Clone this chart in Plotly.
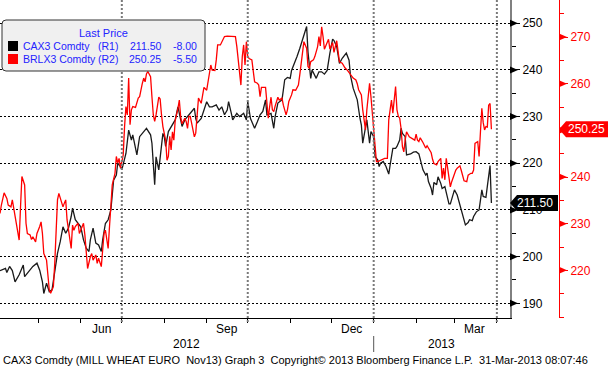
import plotly.graph_objects as go
import pandas as pd

# ---------------- data ----------------
cax_dates = [
    "2012-04-03","2012-04-07","2012-04-08","2012-04-10","2012-04-12","2012-04-14","2012-04-17","2012-04-20",
    "2012-04-21","2012-04-24","2012-04-27","2012-04-30","2012-05-02","2012-05-04","2012-05-05","2012-05-07",
    "2012-05-09","2012-05-11","2012-05-12","2012-05-15","2012-05-17","2012-05-19","2012-05-21","2012-05-23",
    "2012-05-25","2012-05-26","2012-05-28","2012-05-30","2012-06-01","2012-06-03","2012-06-05","2012-06-07",
    "2012-06-08","2012-06-10","2012-06-12","2012-06-14","2012-06-16","2012-06-17","2012-06-19","2012-06-21",
    "2012-06-23","2012-06-25","2012-06-27","2012-06-28","2012-06-30","2012-07-01","2012-07-03","2012-07-04",
    "2012-07-06","2012-07-08","2012-07-09","2012-07-12","2012-07-14","2012-07-17","2012-07-19","2012-07-22",
    "2012-07-23","2012-07-25","2012-07-26","2012-07-28","2012-07-29","2012-07-31","2012-08-01","2012-08-02",
    "2012-08-04","2012-08-06","2012-08-09","2012-08-11","2012-08-13","2012-08-14","2012-08-16","2012-08-19",
    "2012-08-21","2012-08-23","2012-08-24","2012-08-25","2012-08-28","2012-08-30","2012-09-01","2012-09-03",
    "2012-09-05","2012-09-08","2012-09-10","2012-09-12","2012-09-14","2012-09-16","2012-09-17","2012-09-19",
    "2012-09-20","2012-09-23","2012-09-25","2012-09-28","2012-09-30","2012-10-01","2012-10-03","2012-10-05",
    "2012-10-06","2012-10-08","2012-10-10","2012-10-12","2012-10-14","2012-10-15","2012-10-18","2012-10-20",
    "2012-10-21","2012-10-23","2012-10-26","2012-10-27","2012-10-28","2012-10-30","2012-11-01","2012-11-02",
    "2012-11-04","2012-11-06","2012-11-08","2012-11-10","2012-11-12","2012-11-13","2012-11-14","2012-11-16",
    "2012-11-17","2012-11-18","2012-11-20","2012-11-22","2012-11-24","2012-11-26","2012-11-28","2012-11-30",
    "2012-12-02","2012-12-03","2012-12-05","2012-12-06","2012-12-07","2012-12-09","2012-12-12","2012-12-14",
    "2012-12-15","2012-12-17","2012-12-19","2012-12-20","2012-12-22","2012-12-23","2012-12-24","2012-12-26",
    "2012-12-27","2012-12-29","2012-12-30","2013-01-01","2013-01-02","2013-01-04","2013-01-05","2013-01-06",
    "2013-01-08","2013-01-10","2013-01-12","2013-01-13","2013-01-15","2013-01-17","2013-01-18","2013-01-20",
    "2013-01-21","2013-01-22","2013-01-24","2013-01-25","2013-01-28","2013-01-30","2013-02-01","2013-02-03",
    "2013-02-05","2013-02-06","2013-02-08","2013-02-09","2013-02-10","2013-02-12","2013-02-13","2013-02-14",
    "2013-02-16","2013-02-17","2013-02-19","2013-02-20","2013-02-22","2013-02-23","2013-02-25","2013-02-26",
    "2013-02-28","2013-03-01","2013-03-03","2013-03-05","2013-03-06","2013-03-08","2013-03-09","2013-03-11",
    "2013-03-12","2013-03-14","2013-03-15","2013-03-17","2013-03-19","2013-03-20","2013-03-21","2013-03-22",
    "2013-03-24","2013-03-25","2013-03-26","2013-03-27","2013-03-28",
]
cax_values = [
    197.0,197.5,196.6,197.9,197.0,194.6,196.1,198.2,195.7,196.8,197.9,198.6,197.1,194.6,192.1,194.3,
    192.5,192.9,195.0,200.7,203.2,206.4,205.0,206.1,208.6,210.4,207.9,207.1,206.4,203.6,201.8,201.1,
    203.6,206.1,202.9,202.5,201.1,203.6,207.1,207.9,210.0,216.4,217.5,220.0,219.3,218.6,220.7,222.1,
    227.1,225.0,226.1,221.8,225.7,226.8,227.5,226.1,224.3,215.4,221.4,218.6,221.4,226.4,225.7,223.6,
    226.8,227.9,229.3,232.1,229.3,227.9,229.3,230.4,231.1,231.8,229.6,228.6,229.6,231.4,233.2,232.1,
    232.1,232.5,231.4,232.1,230.4,231.4,233.2,230.7,229.3,230.7,230.0,230.7,229.3,233.2,229.6,228.2,
    227.5,228.9,230.4,231.1,233.6,230.4,230.7,227.5,230.0,232.9,233.6,235.7,237.9,238.4,238.2,239.9,
    241.3,242.9,244.6,246.4,248.7,249.3,243.9,238.2,240.0,239.3,238.2,239.6,239.6,239.1,239.9,243.6,
    246.6,246.3,245.0,243.2,241.4,242.5,243.6,242.1,238.9,236.1,234.3,233.6,229.6,228.2,224.3,227.9,
    229.3,224.3,226.8,225.7,221.4,220.7,219.3,220.0,220.4,219.3,217.7,219.6,223.2,223.2,223.6,225.0,
    227.5,226.4,225.7,221.8,222.0,222.4,222.5,222.0,219.6,218.6,217.5,217.9,216.1,214.6,213.2,215.9,
    215.4,217.1,215.7,214.6,215.0,213.9,211.3,211.3,213.6,214.3,213.2,211.1,210.0,207.9,206.8,207.3,
    207.9,207.7,208.6,209.6,210.0,212.1,214.3,212.9,212.7,215.0,217.1,219.5,211.5,
]

brl_dates = [
    "2012-04-03","2012-04-04","2012-04-06","2012-04-08","2012-04-09","2012-04-11","2012-04-12","2012-04-13",
    "2012-04-15","2012-04-16","2012-04-17","2012-04-18","2012-04-19","2012-04-21","2012-04-22","2012-04-23",
    "2012-04-25","2012-04-26","2012-04-27","2012-04-29","2012-04-30","2012-05-02","2012-05-03","2012-05-04",
    "2012-05-05","2012-05-07","2012-05-08","2012-05-09","2012-05-10","2012-05-12","2012-05-13","2012-05-14",
    "2012-05-15","2012-05-16","2012-05-18","2012-05-19","2012-05-20","2012-05-21","2012-05-22","2012-05-24",
    "2012-05-25","2012-05-26","2012-05-27","2012-05-28","2012-05-30","2012-05-31","2012-06-02","2012-06-03",
    "2012-06-04","2012-06-05","2012-06-06","2012-06-08","2012-06-09","2012-06-10","2012-06-12","2012-06-13",
    "2012-06-14","2012-06-16","2012-06-17","2012-06-18","2012-06-19","2012-06-21","2012-06-22","2012-06-23",
    "2012-06-24","2012-06-26","2012-06-27","2012-06-28","2012-06-29","2012-06-30","2012-07-02","2012-07-03",
    "2012-07-04","2012-07-05","2012-07-06","2012-07-07","2012-07-08","2012-07-09","2012-07-11","2012-07-13",
    "2012-07-14","2012-07-16","2012-07-17","2012-07-18","2012-07-19","2012-07-20","2012-07-22","2012-07-23",
    "2012-07-24","2012-07-25","2012-07-26","2012-07-28","2012-07-29","2012-07-30","2012-07-31","2012-08-02",
    "2012-08-03","2012-08-04","2012-08-05","2012-08-06","2012-08-07","2012-08-08","2012-08-09","2012-08-11",
    "2012-08-12","2012-08-13","2012-08-14","2012-08-16","2012-08-17","2012-08-18","2012-08-19","2012-08-20",
    "2012-08-22","2012-08-23","2012-08-24","2012-08-25","2012-08-26","2012-08-28","2012-08-29","2012-08-30",
    "2012-09-01","2012-09-02","2012-09-03","2012-09-04","2012-09-05","2012-09-07","2012-09-08","2012-09-09",
    "2012-09-11","2012-09-12","2012-09-14","2012-09-16","2012-09-19","2012-09-22","2012-09-23","2012-09-25",
    "2012-09-26","2012-09-27","2012-09-28","2012-09-29","2012-09-30","2012-10-01","2012-10-02","2012-10-04",
    "2012-10-05","2012-10-06","2012-10-08","2012-10-09","2012-10-10","2012-10-11","2012-10-14","2012-10-15",
    "2012-10-16","2012-10-17","2012-10-18","2012-10-19","2012-10-20","2012-10-21","2012-10-23","2012-10-24",
    "2012-10-26","2012-10-27","2012-10-29","2012-10-30","2012-10-31","2012-11-02","2012-11-03","2012-11-05",
    "2012-11-07","2012-11-08","2012-11-09","2012-11-10","2012-11-11","2012-11-13","2012-11-14","2012-11-15",
    "2012-11-16","2012-11-18","2012-11-19","2012-11-21","2012-11-22","2012-11-23","2012-11-24","2012-11-25",
    "2012-11-26","2012-11-28","2012-11-29","2012-11-30","2012-12-02","2012-12-03","2012-12-04","2012-12-05",
    "2012-12-06","2012-12-07","2012-12-09","2012-12-11","2012-12-13","2012-12-15","2012-12-17","2012-12-19",
    "2012-12-20","2012-12-21","2012-12-23","2012-12-24","2012-12-25","2012-12-26","2012-12-27","2012-12-28",
    "2012-12-29","2012-12-30","2012-12-31","2013-01-01","2013-01-02","2013-01-03","2013-01-04","2013-01-06",
    "2013-01-09","2013-01-11","2013-01-12","2013-01-13","2013-01-14","2013-01-15","2013-01-16","2013-01-17",
    "2013-01-18","2013-01-19","2013-01-20","2013-01-21","2013-01-22","2013-01-23","2013-01-24","2013-01-25",
    "2013-01-27","2013-01-29","2013-01-31","2013-02-01","2013-02-02","2013-02-03","2013-02-04","2013-02-06",
    "2013-02-07","2013-02-08","2013-02-09","2013-02-11","2013-02-12","2013-02-13","2013-02-14","2013-02-16",
    "2013-02-17","2013-02-19","2013-02-20","2013-02-21","2013-02-22","2013-02-23","2013-02-25","2013-02-26",
    "2013-02-27","2013-03-01","2013-03-02","2013-03-03","2013-03-05","2013-03-06","2013-03-07","2013-03-08",
    "2013-03-10","2013-03-11","2013-03-13","2013-03-14","2013-03-15","2013-03-16","2013-03-18","2013-03-19",
    "2013-03-20","2013-03-21","2013-03-22","2013-03-23","2013-03-24","2013-03-25","2013-03-26","2013-03-27",
    "2013-03-28",
]
brl_values = [
    232.2,234.0,236.6,235.4,234.0,233.6,235.1,233.3,230.4,227.9,226.5,233.6,240.1,238.3,230.1,227.9,
    227.6,226.6,227.2,226.1,227.9,229.4,230.4,227.9,223.6,222.2,218.6,215.8,215.1,216.5,221.5,227.9,
    235.1,236.5,234.7,233.6,234.4,235.1,230.8,227.2,224.7,229.7,228.6,229.4,230.1,227.9,229.4,230.1,
    227.6,223.6,220.4,222.9,223.6,222.2,223.3,221.5,222.6,220.8,223.6,227.9,228.6,224.7,229.4,234.4,
    238.3,240.8,244.4,243.0,244.0,241.9,244.7,250.8,255.1,253.3,261.2,251.2,254.4,255.1,254.9,256.9,
    257.2,260.1,261.2,260.4,262.1,262.6,261.5,257.2,253.3,251.9,253.3,257.1,256.7,253.3,250.8,247.9,
    243.6,244.4,248.7,245.8,249.7,247.9,252.1,254.7,256.5,252.9,251.4,252.6,251.9,250.4,253.0,253.0,
    250.4,248.6,249.4,254.4,256.9,255.8,257.9,259.2,258.6,260.4,262.6,264.0,262.9,262.8,265.1,268.3,
    268.3,269.0,270.1,270.2,270.2,270.1,268.0,262.9,259.7,265.8,268.3,264.0,269.0,265.8,265.4,265.1,
    262.9,260.4,260.1,259.7,257.2,259.2,259.2,256.2,252.6,255.1,257.1,254.4,254.0,255.2,257.1,256.5,
    256.9,255.4,253.3,254.4,256.2,257.6,258.7,258.6,259.7,261.9,264.0,266.5,269.0,267.6,263.7,263.3,
    264.7,265.1,265.8,267.9,270.1,268.1,272.2,270.1,267.4,268.8,269.5,267.4,268.8,266.7,268.1,269.2,
    266.9,264.7,264.4,263.4,262.8,261.9,261.2,260.8,260.0,258.7,257.6,254.4,251.9,250.1,254.4,257.2,
    260.1,257.2,253.3,249.4,246.2,243.3,243.3,243.6,244.0,244.0,252.2,254.4,256.5,253.7,256.2,259.4,
    254.4,253.0,252.6,250.4,246.5,245.4,247.9,249.7,248.6,248.3,247.9,249.2,247.9,247.6,248.4,247.4,
    246.7,246.2,246.7,245.8,245.2,243.8,242.9,242.6,243.3,244.0,239.7,241.9,239.4,244.0,239.4,237.9,
    239.0,240.8,241.5,241.9,242.4,241.4,240.2,239.2,239.0,240.4,240.8,240.8,241.5,247.2,247.6,244.4,
    249.7,254.7,251.7,250.1,250.8,250.7,255.4,255.75,250.25,
]

cax_name = "CAX3 Comdty"
brl_name = "BRLX3 Comdty"
month_labels = ["Jun", "Sep", "Dec", "Mar"]
month_label_dates = ["2012-06-16", "2012-09-16", "2012-12-16", "2013-03-16"]
quarter_dates = ["2012-07-01", "2012-10-01", "2013-01-01", "2013-04-01"]
year_labels = ["2012", "2013"]
year_start_2013 = "2013-01-01"
r1_ticks = [190, 200, 210, 220, 230, 240, 250]
r1_ticktext = ["190", "200", "210", "220", "230", "240", "250"]
r2_ticks = [220, 230, 240, 250, 260, 270]
r2_ticktext = ["220", "230", "240", "", "260", "270"]   # 250 hidden behind the last-price tag
x_range = ["2012-04-03", "2013-04-10 14:00"]
r1_range = [186.85, 254.99]
r2_range = [209.79, 277.93]
footer_text = ("CAX3 Comdty (MILL WHEAT EURO\u00a0\u00a0Nov13) Graph 3\u00a0\u00a0Copyright\u00a9 2013 "
               "Bloomberg Finance L.P.\u00a0\u00a031-Mar-2013 08:07:46")

# ---------------- geometry helpers (pixels -> paper) ----------------
W, H = 608, 369
PW, PH = 559, 318          # plotting region (paper) size in px
XDOM = 510 / PW            # end of the x-axis domain (R1 axis line)
FONT = "Liberation Sans"
BLUE = "#2323ff"


def px(p):
    return p / PW


def py(p):
    return 1 - p / PH


def val_to_py(v, rng):
    return (v - rng[0]) / (rng[1] - rng[0])


t0 = pd.Timestamp(x_range[0])
t1 = pd.Timestamp(x_range[1])


def date_to_px(d):
    return (pd.Timestamp(d) - t0) / (t1 - t0) * XDOM


fig = go.Figure()
fig.add_trace(go.Scatter(x=pd.to_datetime(brl_dates), y=brl_values, yaxis="y2", mode="lines",
                         line=dict(color="#ff0000", width=1.3), name=brl_name, showlegend=False))
fig.add_trace(go.Scatter(x=pd.to_datetime(cax_dates), y=cax_values, yaxis="y", mode="lines",
                         line=dict(color="#1a1a1a", width=1.3), name=cax_name, showlegend=False))

shapes = []
# vertical quarter grid lines
for d in quarter_dates:
    xp = date_to_px(d)
    shapes.append(dict(type="line", xref="paper", yref="paper", x0=xp, x1=xp, y0=-4 / PH, y1=1,
                       line=dict(color="#7a7a7a", width=2, dash="2px,2px"), layer="above"))

# R1 triangle tick marks
for v in r1_ticks:
    yp = val_to_py(v, r1_range)
    shapes.append(dict(type="path", xref="paper", yref="paper",
                       path=f"M {XDOM} {yp + 3.5 / PH} L {XDOM + px(8)} {yp} L {XDOM} {yp - 3.5 / PH} Z",
                       fillcolor="#000000", line=dict(width=0)))
# R2 triangle tick marks
for v in r2_ticks:
    yp = val_to_py(v, r2_range)
    shapes.append(dict(type="path", xref="paper", yref="paper",
                       path=f"M 1 {yp + 3.5 / PH} L {1 + px(8)} {yp} L 1 {yp - 3.5 / PH} Z",
                       fillcolor="#ff0000", line=dict(width=0)))


# last value boxes
def value_box(v, rng, x_tip, x_end, color):
    yp = val_to_py(v, rng)
    hh = 8 / PH
    path = (f"M {x_tip} {yp} L {x_tip + px(7)} {yp + hh} L {x_end} {yp + hh} "
            f"L {x_end} {yp - hh} L {x_tip + px(7)} {yp - hh} Z")
    shapes.append(dict(type="path", xref="paper", yref="paper", path=path,
                       fillcolor=color, line=dict(width=0), layer="above"))
    return yp


cax_last, brl_last = cax_values[-1], brl_values[-1]
cax_chg = cax_values[-1] - cax_values[-2]
brl_chg = brl_values[-1] - brl_values[-2]
yp_cax = value_box(cax_last, r1_range, XDOM, px(558), "#000000")
yp_brl = value_box(brl_last, r2_range, 1.0, px(608), "#ff0000")

# legend box (rounded rectangle)
lx0, lx1, ly0, ly1, r = 2, 205, 20, 71, 4
path = (f"M {px(lx0 + r)} {py(ly0)} L {px(lx1 - r)} {py(ly0)} Q {px(lx1)} {py(ly0)} {px(lx1)} {py(ly0 + r)} "
        f"L {px(lx1)} {py(ly1 - r)} Q {px(lx1)} {py(ly1)} {px(lx1 - r)} {py(ly1)} "
        f"L {px(lx0 + r)} {py(ly1)} Q {px(lx0)} {py(ly1)} {px(lx0)} {py(ly1 - r)} "
        f"L {px(lx0)} {py(ly0 + r)} Q {px(lx0)} {py(ly0)} {px(lx0 + r)} {py(ly0)} Z")
shapes.append(dict(type="path", xref="paper", yref="paper", path=path,
                   fillcolor="#f0f0f0", line=dict(color="#333333", width=1), layer="above"))
shapes.append(dict(type="rect", xref="paper", yref="paper", x0=px(8), x1=px(18), y0=py(51), y1=py(41),
                   fillcolor="#000000", line=dict(width=0), layer="above"))
shapes.append(dict(type="rect", xref="paper", yref="paper", x0=px(8), x1=px(18), y0=py(64), y1=py(54),
                   fillcolor="#ff0000", line=dict(width=0), layer="above"))

# year separator below axis
xs = date_to_px(year_start_2013)
shapes.append(dict(type="line", xref="paper", yref="paper", x0=xs, x1=xs, y0=py(336), y1=py(352),
                   line=dict(color="#555555", width=1)))

ann = []


def text(x, y, s, color="#000000", size=12, xanchor="left"):
    ann.append(dict(xref="paper", yref="paper", x=x, y=y, text=s, showarrow=False,
                    xanchor=xanchor, yanchor="middle", font=dict(family=FONT, size=size, color=color),
                    borderpad=0))


# legend texts
LS = 10.5
text(px(103), py(33), "Last Price", BLUE, 11, xanchor="center")
text(px(22), py(46), cax_name, BLUE, LS)
text(px(97), py(46), "(R1)", BLUE, LS)
text(px(162), py(46), f"{cax_last:.2f}", BLUE, LS, xanchor="right")
text(px(198), py(46), f"{cax_chg:.2f}", BLUE, LS, xanchor="right")
text(px(22), py(59), brl_name, BLUE, LS)
text(px(97), py(59), "(R2)", BLUE, LS)
text(px(162), py(59), f"{brl_last:.2f}", BLUE, LS, xanchor="right")
text(px(198), py(59), f"{brl_chg:.2f}", BLUE, LS, xanchor="right")

# value box texts
text(px(535), yp_cax, f"{cax_last:.2f}", "#ffffff", 12, xanchor="center")
text(px(586), yp_brl, f"{brl_last:.2f}", "#ffffff", 12, xanchor="center")

# month & year labels
for lab, d in zip(month_labels, month_label_dates):
    text(date_to_px(d), py(329), lab, xanchor="center")
year_mid = [(0 + xs) / 2, (xs + XDOM) / 2]
for lab, xp in zip(year_labels, year_mid):
    text(xp, py(344), lab, xanchor="center")

# footer
text(px(2), py(360), footer_text, "#000000", 11)

fig.update_layout(
    width=W, height=H,
    margin=dict(l=0, r=W - PW, t=0, b=H - PH, autoexpand=False),
    paper_bgcolor="#ffffff", plot_bgcolor="#ffffff",
    showlegend=False,
    xaxis=dict(type="date", range=x_range, domain=[0, XDOM], anchor="y",
               showline=True, linecolor="#000000", linewidth=1,
               ticks="outside", ticklen=4, tickcolor="#000000", tickmode="linear",
               tick0="2012-05-01", dtick="M1", showticklabels=False, showgrid=False, zeroline=False),
    yaxis=dict(side="right", anchor="x", range=r1_range, showline=True, linecolor="#808080", linewidth=2,
               tickmode="array", tickvals=r1_ticks, ticktext=r1_ticktext, ticks="outside", ticklen=8,
               tickwidth=1, tickcolor="#000000", tickfont=dict(family=FONT, size=12, color="#000000"),
               showgrid=True, gridcolor="#000000", gridwidth=1, griddash="2px,2px", zeroline=False,
               minor=dict(tick0=0, dtick=5, ticks="outside", ticklen=4, tickcolor="#000000", showgrid=False)),
    yaxis2=dict(overlaying="y", side="right", anchor="free", position=1.0, range=r2_range,
                showline=True, linecolor="#ff0000", linewidth=1,
                tickmode="array", tickvals=r2_ticks, ticktext=r2_ticktext, ticks="outside", ticklen=8,
                tickwidth=1, tickcolor="#ff0000", tickfont=dict(family=FONT, size=12, color="#ff0000"),
                showgrid=False, zeroline=False,
                minor=dict(tick0=0, dtick=5, ticks="outside", ticklen=4, tickcolor="#ff0000", showgrid=False)),
    shapes=shapes,
    annotations=ann,
)

fig.write_html("out.html", config={"displayModeBar": False},
               post_script="document.body.style.margin='0';document.body.style.overflow='hidden';")
